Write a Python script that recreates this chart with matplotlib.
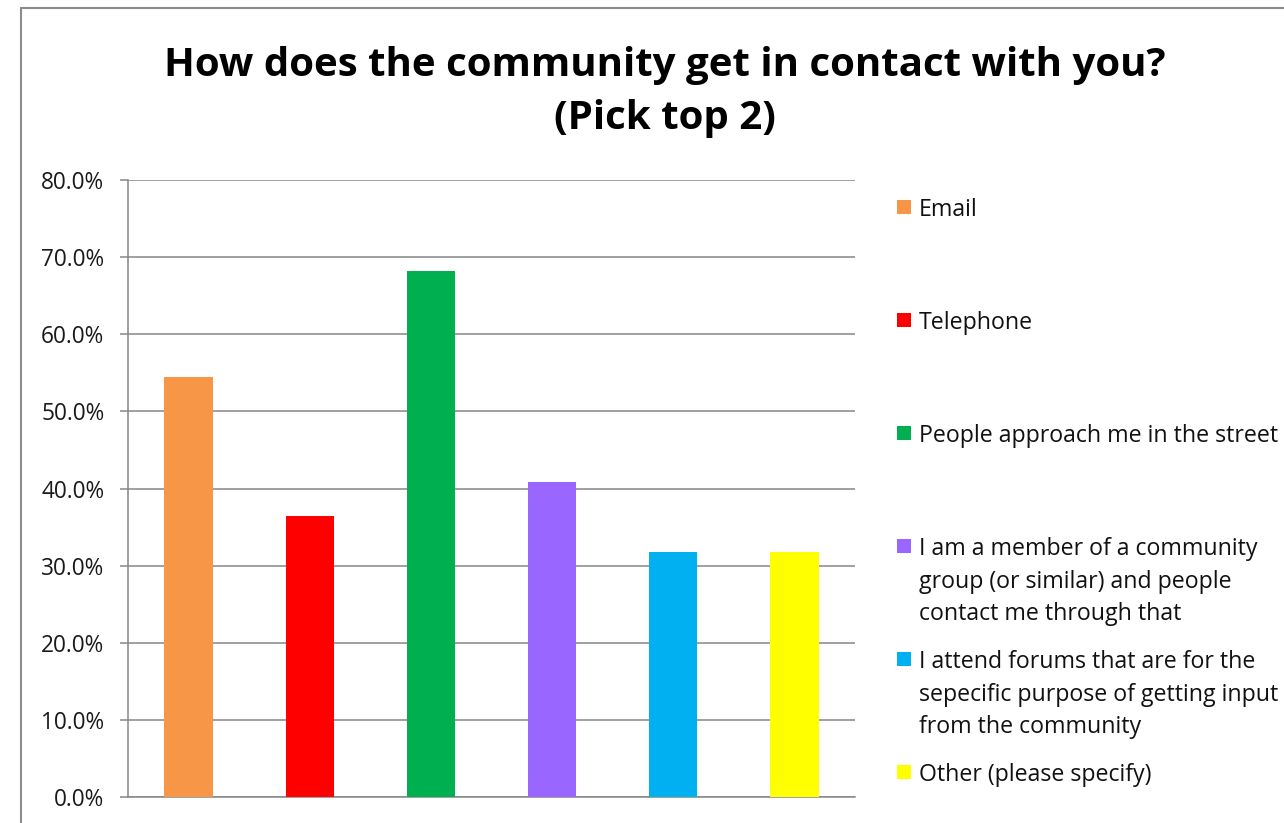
import matplotlib.pyplot as plt
from matplotlib.patches import Rectangle
from matplotlib.ticker import PercentFormatter

plt.rcParams['font.family'] = ['Open Sans', 'DejaVu Sans']

title = "How does the community get in contact with you?\n(Pick top 2)"
categories = [
    "Email",
    "Telephone",
    "People approach me in the street",
    "I am a member of a community\ngroup (or similar) and people\ncontact me through that",
    "I attend forums that are for the\nsepecific purpose of getting input\nfrom the community",
    "Other (please specify)",
]
shares = [54.5, 36.4, 68.2, 40.9, 31.8, 31.8]
colors = ["#F79646", "#FF0000", "#00B050", "#9966FF", "#00B0F0", "#FFFF00"]
yticks = [0, 10, 20, 30, 40, 50, 60, 70, 80]

W, H = 1284, 823
fig = plt.figure(figsize=(W / 100, H / 100), dpi=100)
ax = fig.add_axes([128 / W, 1 - 797 / H, (855 - 128) / W, (797 - 180) / H])

x = list(range(len(shares)))
ax.bar(x, shares, width=0.4, color=colors, zorder=3)

ax.set_xlim(-0.5, len(shares) - 0.5)
ax.set_ylim(0, 80)
ax.set_yticks(yticks)
ax.yaxis.set_major_formatter(PercentFormatter(decimals=1))
ax.grid(axis='y', color='#868686', linewidth=1.1, zorder=0)
ax.set_xticks([])
ax.tick_params(axis='y', length=6, width=1.1, color='#868686', pad=11,
               labelsize=16.3, labelcolor='#1a1a1a')
for side in ['top', 'right']:
    ax.spines[side].set_visible(False)
for side in ['left', 'bottom']:
    ax.spines[side].set_color('#868686')
    ax.spines[side].set_linewidth(1.1)

fig.text(665 / W, 1 - 92 / H, title, ha='center', va='center',
         fontsize=29, fontweight='bold', linespacing=1.45)

# hand-placed legend, one block per category
y0 = 207
step = 113
for i, (lab, c) in enumerate(zip(categories, colors)):
    yc = y0 + i * step
    fig.patches.append(Rectangle((897 / W, 1 - (yc + 7) / H), 14 / W, 14 / H,
                                 transform=fig.transFigure, facecolor=c,
                                 edgecolor='none'))
    fig.text(919 / W, 1 - (yc - 9) / H, lab, ha='left', va='top',
             fontsize=16.7, color='#111111', linespacing=1.48)

# chart frame, clipped by the image edge on the right and bottom
fig.patches.append(Rectangle((21 / W, -0.1), 1.2, 1 - 8 / H + 0.1,
                             transform=fig.transFigure, facecolor='none',
                             edgecolor='#8c8c8c', linewidth=1.5))

fig.savefig("out.png", dpi=100)
